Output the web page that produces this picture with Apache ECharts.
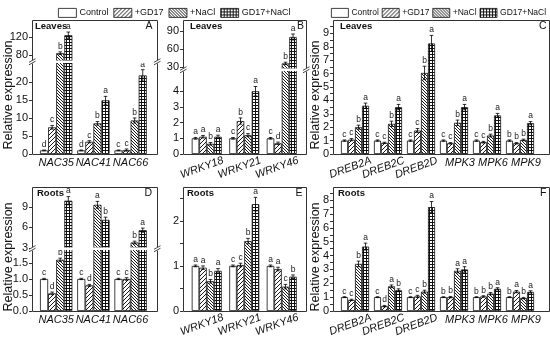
<!DOCTYPE html>
<html><head><meta charset="utf-8">
<script src="https://cdn.jsdelivr.net/npm/echarts@6/dist/echarts.min.js"></script>
<style>html,body{margin:0;padding:0;background:#fff}#c{width:550px;height:340px}</style>
</head><body><div id="c"></div>
<script>
// ---------------- DATA ----------------
const conditions = ['Control', '+GD17', '+NaCl', 'GD17+NaCl'];

// Panel A – Leaves, NAC genes (rows: conditions, cols: genes)
const nacGenes = ['NAC35', 'NAC41', 'NAC66'];
const leafNacMean = [[1.0, 1.0, 1.0], [7.4, 3.4, 1.1], [84, 8.5, 9.3], [124, 14.9, 21.8]];
const leafNacErr = [[0.1, 0.1, 0.1], [0.5, 0.3, 0.3], [3, 0.5, 0.7], [7, 1.1, 1.6]];
const leafNacLetters = [['d', 'd', 'c'], ['c', 'c', 'c'], ['b', 'b', 'b'], ['a', 'a', 'a']];
const leafNacTicksUpper = [80, 120];
const leafNacTicksLower = [0, 5, 10, 15, 20];

// Panel B – Leaves, WRKY genes
const wrkyGenes = ['WRKY18', 'WRKY21', 'WRKY46'];
const leafWrkyMean = [[1.0, 1.0, 1.0], [1.1, 2.1, 0.68], [0.65, 1.2, 36], [1.1, 4.0, 80]];
const leafWrkyErr = [[0.05, 0.05, 0.05], [0.08, 0.2, 0.08], [0.08, 0.1, 2], [0.1, 0.3, 5]];
const leafWrkyLetters = [['a', 'c', 'c'], ['a', 'b', 'd'], ['b', 'c', 'b'], ['a', 'a', 'a']];
const leafWrkyTicksUpper = [30, 60, 90];
const leafWrkyTicksLower = [0, 1, 2, 3, 4];

// Panel C – Leaves, DREB/MPK genes
const drebGenes = ['DREB2A', 'DREB2C', 'DREB2D', 'MPK3', 'MPK6', 'MPK9'];
const leafDrebMean = [[1, 1, 1, 1, 1, 1], [1.07, 0.83, 1.75, 0.8, 0.88, 0.8], [2.0, 2.25, 6.05, 2.33, 1.38, 1.05], [3.6, 3.5, 8.25, 3.5, 2.88, 2.3]];
const leafDrebErr = [[0.05, 0.05, 0.05, 0.05, 0.05, 0.05], [0.08, 0.05, 0.15, 0.05, 0.06, 0.05], [0.15, 0.2, 0.5, 0.2, 0.1, 0.06], [0.2, 0.2, 0.6, 0.2, 0.15, 0.12]];
const leafDrebLetters = [['c', 'c', 'c', 'c', 'c', 'b'], ['c', 'c', 'c', 'c', 'c', 'b'], ['b', 'b', 'b', 'b', 'b', 'b'], ['a', 'a', 'a', 'a', 'a', 'a']];
const leafDrebLabels = [0, 1, 2, 3, 4, 5, 6, 7, 8, 9];
const leafDrebTicks = [0, 0.5, 1, 1.5, 2, 2.5, 3, 3.5, 4, 4.5, 5, 5.5, 6, 6.5, 7, 7.5, 8, 8.5, 9, 9.5];

// Panel D – Roots, NAC genes
const rootNacMean = [[1, 1, 1], [0.55, 0.8, 1.0], [1.6, 9.3, 3.8], [9.9, 7.1, 5.6]];
const rootNacErr = [[0.02, 0.02, 0.02], [0.04, 0.03, 0.04], [0.05, 0.5, 0.2], [0.6, 0.4, 0.3]];
const rootNacLetters = [['c', 'c', 'c'], ['d', 'd', 'c'], ['b', 'a', 'b'], ['a', 'b', 'a']];
const rootNacTicksUpper = [3, 6, 9];
const rootNacTicksLower = [0, 0.5, 1, 1.5];

// Panel E – Roots, WRKY genes
const rootWrkyMean = [[1, 1, 1], [0.96, 1.02, 0.93], [0.66, 1.55, 0.54], [0.89, 2.37, 0.76]];
const rootWrkyErr = [[0.02, 0.02, 0.02], [0.04, 0.04, 0.04], [0.04, 0.06, 0.05], [0.05, 0.15, 0.04]];
const rootWrkyLetters = [['a', 'c', 'a'], ['a', 'c', 'a'], ['b', 'b', 'c'], ['a', 'a', 'b']];
const rootWrkyLabels = [0, 1, 2];
const rootWrkyTicks = [0, 0.5, 1, 1.5, 2, 2.5];

// Panel F – Roots, DREB/MPK genes
const rootDrebMean = [[1, 1, 1, 1, 1, 1], [0.8, 0.35, 1.05, 1.0, 1.05, 1.4], [3.4, 1.78, 1.4, 2.9, 1.25, 0.93], [4.65, 1.5, 7.5, 3.0, 1.6, 1.38]];
const rootDrebErr = [[0.03, 0.03, 0.03, 0.03, 0.03, 0.03], [0.05, 0.05, 0.08, 0.05, 0.05, 0.08], [0.2, 0.1, 0.1, 0.15, 0.08, 0.05], [0.25, 0.1, 0.4, 0.2, 0.08, 0.08]];
const rootDrebLetters = [['c', 'c', 'c', 'b', 'b', 'b'], ['c', 'd', 'c', 'b', 'b', 'a'], ['b', 'a', 'b', 'a', 'b', 'b'], ['a', 'b', 'a', 'a', 'a', 'a']];
const rootDrebLabels = [0, 1, 2, 3, 4, 5, 6, 7, 8];
const rootDrebTicks = [0, 0.5, 1, 1.5, 2, 2.5, 3, 3.5, 4, 4.5, 5, 5.5, 6, 6.5, 7, 7.5, 8, 8.5];

const rotatedGenes = ['WRKY18', 'WRKY21', 'WRKY46', 'DREB2A', 'DREB2C', 'DREB2D'];

// ---------------- STYLE / LAYOUT ----------------
const FONT = '"Liberation Sans", Arial, sans-serif';
const INK = '#111';

function pattern(kind) {
  const s = kind === 'fwd' ? 4 : 3;
  const c = document.createElement('canvas');
  c.width = s; c.height = s;
  const g = c.getContext('2d');
  g.fillStyle = '#fff'; g.fillRect(0, 0, s, s);
  if (kind === 'check') {
    g.fillStyle = '#111'; g.fillRect(0, 0, s, s);
    g.fillStyle = '#fff'; g.fillRect(1, 1, 2, 2);
  } else {
    g.strokeStyle = '#000'; g.lineWidth = 0.9;
    g.beginPath();
    for (let o = -s; o <= s; o += s) {
      if (kind === 'fwd') { g.moveTo(o, s); g.lineTo(o + s, 0); }
      else { g.moveTo(o, 0); g.lineTo(o + s, s); }
    }
    g.stroke();
  }
  return { image: c, repeat: 'repeat' };
}
const fills = ['#ffffff', pattern('fwd'), pattern('back'), pattern('check')];

const panels = [
  { genes: nacGenes, mean: leafNacMean, err: leafNacErr, letters: leafNacLetters, tissue: 'Leaves', tag: 'A', yName: 17, xl: 'flat',
    frame: [32, 20, 157, 154], inner: [37.6, 149.2], gap: 0.13, tdx: 3, ldx: 4.5,
    segs: [{ top: 20, bottom: 61, min: 66.7, max: 157.8, labels: leafNacTicksUpper, ticks: leafNacTicksUpper },
           { top: 62.5, bottom: 154, min: 0, max: 25.4, labels: leafNacTicksLower, ticks: leafNacTicksLower }] },
  { genes: wrkyGenes, mean: leafWrkyMean, err: leafWrkyErr, letters: leafWrkyLetters, tissue: 'Leaves', tag: 'B', yName: 0, xl: 'rot',
    frame: [183, 20, 306, 154], inner: [188, 300.5], gap: 0.2, tdx: 7, ldx: 2,
    segs: [{ top: 20, bottom: 69, min: 26.7, max: 108.3, labels: leafWrkyTicksUpper, ticks: leafWrkyTicksUpper },
           { top: 70.5, bottom: 154, min: 0, max: 5.32, labels: leafWrkyTicksLower, ticks: leafWrkyTicksLower }] },
  { genes: drebGenes, mean: leafDrebMean, err: leafDrebErr, letters: leafDrebLetters, tissue: 'Leaves', tag: 'C', yName: 10.5, xl: 'mixed',
    frame: [333, 20, 549, 154], inner: [338.5, 536.5], gap: 0.15, tdx: 7, ldx: 2.5,
    segs: [{ top: 20, bottom: 154, min: 0, max: 10, labels: leafDrebLabels, ticks: leafDrebTicks }] },
  { genes: nacGenes, mean: rootNacMean, err: rootNacErr, letters: rootNacLetters, tissue: 'Roots', tag: 'D', yName: 17, xl: 'flat',
    frame: [32, 187, 157, 311], inner: [37.6, 149.2], gap: 0.13, tdx: 5, ldx: 5,
    segs: [{ top: 187, bottom: 248, min: 3, max: 11.9, labels: rootNacTicksUpper, ticks: rootNacTicksUpper },
           { top: 249.5, bottom: 311, min: 0, max: 1.92, labels: rootNacTicksLower, ticks: rootNacTicksLower, fmt: v => Number(v).toFixed(1) }] },
  { genes: wrkyGenes, mean: rootWrkyMean, err: rootWrkyErr, letters: rootWrkyLetters, tissue: 'Roots', tag: 'E', yName: 0, xl: 'rot',
    frame: [183, 187, 306, 311], inner: [188, 300.5], gap: 0.2, tdx: 4, ldx: 3.5,
    segs: [{ top: 187, bottom: 311, min: 0, max: 2.75, labels: rootWrkyLabels, ticks: rootWrkyTicks }] },
  { genes: drebGenes, mean: rootDrebMean, err: rootDrebErr, letters: rootDrebLetters, tissue: 'Roots', tag: 'F', yName: 10.5, xl: 'mixed',
    frame: [333, 187, 549, 311], inner: [338.5, 536.5], gap: 0.15, tdx: 5, ldx: 2.5,
    segs: [{ top: 187, bottom: 311, min: 0, max: 8.95, labels: rootDrebLabels, ticks: rootDrebTicks }] }
];

const grids = [], xAxes = [], yAxes = [], series = [], gfx = [];

const flatLabel = { interval: 0, fontStyle: 'italic', fontSize: 11, fontFamily: FONT, color: INK, margin: 3 };
const rotLabel = { interval: 0, rotate: 20, align: 'center', verticalAlign: 'middle', margin: 12, padding: [0, 10, 0, 0],
  fontStyle: 'italic', fontSize: 11, fontFamily: FONT, color: INK };

function errRender(p, seg) {
  return function (params, api) {
    const ci = api.value(0), m = api.value(1), e = api.value(2), k = api.value(3);
    if (m < seg.min || m > seg.max) return null;
    const band = api.coord([1, m])[0] - api.coord([0, m])[0];
    const bw = band * (1 - p.gap) / 4;
    const x = api.coord([ci, m])[0] + (k - 1.5) * bw;
    const yTop = api.coord([ci, m + e])[1];
    const yBot = api.coord([ci, Math.max(m - e, seg.min)])[1];
    const cap = 1.8, st = { stroke: '#000', lineWidth: 0.8 };
    return { type: 'group', children: [
      { type: 'line', shape: { x1: x, y1: yTop, x2: x, y2: yBot }, style: st },
      { type: 'line', shape: { x1: x - cap, y1: yTop, x2: x + cap, y2: yTop }, style: st },
      { type: 'line', shape: { x1: x - cap, y1: yBot, x2: x + cap, y2: yBot }, style: st },
      { type: 'text', style: { text: p.letters[k][ci], x: x, y: yTop - 1, align: 'center', verticalAlign: 'bottom',
        fontSize: 8.5, fontFamily: FONT, fill: '#222' } }
    ] };
  };
}

panels.forEach(p => {
  const [l, t, r, b] = p.frame;
  // frame grid carrying the y axis name
  if (p.yName) {
    const gi = grids.length;
    grids.push({ left: l, top: t + 8, width: r - l, height: b - t, show: false });
    xAxes.push({ type: 'value', gridIndex: gi, show: false, min: 0, max: 1 });
    yAxes.push({ type: 'value', gridIndex: gi, min: 0, max: 1, axisLine: { show: false }, axisTick: { show: false },
      axisLabel: { show: false }, splitLine: { show: false },
      name: 'Relative expression', nameLocation: 'middle', nameGap: p.yName,
      nameTextStyle: { fontSize: 12.5, fontFamily: FONT, color: INK } });
  }
  p.segs.forEach((seg, si) => {
    const isBottom = si === p.segs.length - 1;
    const gi = grids.length;
    grids.push({ left: p.inner[0], top: seg.top, width: p.inner[1] - p.inner[0], height: seg.bottom - seg.top, show: false });
    const xi = xAxes.length;
    let lab = { show: false };
    if (isBottom) {
      if (p.xl === 'flat') lab = flatLabel;
      else lab = Object.assign({}, rotLabel, { formatter: v => rotatedGenes.includes(v) ? v : '' });
    }
    xAxes.push({ type: 'category', gridIndex: gi, data: p.genes, axisLine: { show: false }, axisTick: { show: false }, axisLabel: lab });
    if (isBottom && p.xl === 'mixed') {
      xAxes.push({ type: 'category', gridIndex: gi, data: p.genes, position: 'bottom', axisLine: { show: false }, axisTick: { show: false },
        axisLabel: Object.assign({}, flatLabel, { fontSize: 11, padding: [0, 0, 0, 12], formatter: v => rotatedGenes.includes(v) ? '' : v }) });
    }
    const yi = yAxes.length;
    yAxes.push({ type: 'value', gridIndex: gi, min: seg.min, max: seg.max, offset: p.inner[0] - l,
      axisLine: { show: false }, splitLine: { show: false },
      axisTick: { show: true, inside: false, length: 3, customValues: seg.ticks, lineStyle: { color: '#333', width: 1 } },
      axisLabel: { customValues: seg.labels, margin: 4, fontSize: 11, fontFamily: FONT, color: INK,
        formatter: seg.fmt || (v => String(v)) } });
    conditions.forEach((cond, k) => {
      series.push({ type: 'bar', name: cond, xAxisIndex: xi, yAxisIndex: yi, data: p.mean[k],
        barGap: '0%', barCategoryGap: (p.gap * 100) + '%', clip: true, silent: true,
        itemStyle: { color: fills[k], borderColor: '#111', borderWidth: 0.8 } });
    });
    const items = [];
    p.genes.forEach((g, ci) => conditions.forEach((c, k) => items.push([ci, p.mean[k][ci], p.err[k][ci], k])));
    series.push({ type: 'custom', xAxisIndex: xi, yAxisIndex: yi, data: items, z: 5, silent: true,
      encode: { x: 0, y: 1 }, renderItem: errRender(p, seg) });
  });
  // breaks
  for (let i = 0; i + 1 < p.segs.length; i++) {
    const y1 = p.segs[i].bottom, y2 = p.segs[i + 1].top;
    gfx.push({ type: 'rect', silent: true, z: 40, shape: { x: l + 1, y: y1 - 0.5, width: r - l - 1, height: y2 - y1 + 1 }, style: { fill: '#fff' } });
    [l, r].forEach(xe => {
      gfx.push({ type: 'rect', silent: true, z: 55, shape: { x: xe - 2, y: y1 - 1, width: 5, height: y2 - y1 + 2 }, style: { fill: '#fff' } });
      [y1 - 0.5, y2 + 0.5].forEach(yy => gfx.push({ type: 'line', silent: true, z: 56,
        shape: { x1: xe - 3, y1: yy + 1.8, x2: xe + 3.5, y2: yy - 1.8 }, style: { stroke: '#333', lineWidth: 0.9 } }));
    });
  }
  gfx.push({ type: 'rect', silent: true, z: 50, shape: { x: l + 0.5, y: t + 0.5, width: r - l, height: b - t },
    style: { fill: null, stroke: '#333', lineWidth: 1 } });
  gfx.push({ type: 'text', silent: true, z: 60, x: l + p.tdx, y: t + 6.5,
    style: { text: p.tissue, fontSize: 9.5, fontWeight: 'bold', fontFamily: FONT, fill: INK, align: 'left', verticalAlign: 'middle' } });
  gfx.push({ type: 'text', silent: true, z: 60, x: r - p.ldx, y: t + 6.5,
    style: { text: p.tag, fontSize: 10.5, fontFamily: FONT, fill: INK, align: 'right', verticalAlign: 'middle' } });
});

const legendBase = { data: conditions, top: 8, padding: 0, width: 280, icon: 'rect', itemWidth: 18, itemHeight: 9, itemGap: 5, selectedMode: false,
  itemStyle: { borderColor: '#111', borderWidth: 0.8 },
  textStyle: { fontSize: 9, fontFamily: FONT, color: INK, padding: [0, 0, 0, -2] } };

const chart = echarts.init(document.getElementById('c'), null, { renderer: 'canvas' });
chart.setOption({
  animation: false,
  backgroundColor: '#fff',
  legend: [Object.assign({}, legendBase, { left: 58 }),
           Object.assign({}, legendBase, { left: 331, itemWidth: 17, itemGap: 3, textStyle: Object.assign({}, legendBase.textStyle, { fontSize: 8.5 }) })],
  grid: grids, xAxis: xAxes, yAxis: yAxes, series: series,
  graphic: { elements: gfx }
});
</script></body></html>
